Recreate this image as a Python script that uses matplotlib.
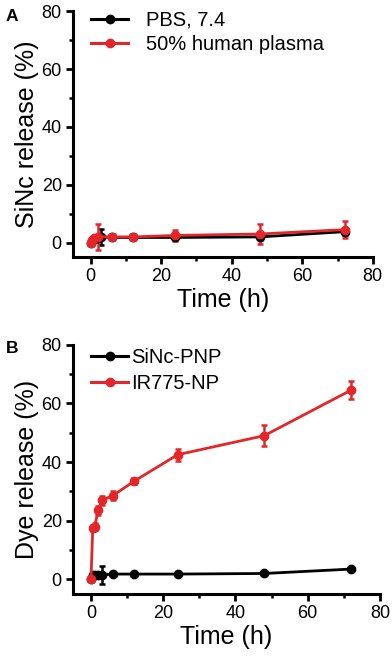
import numpy as np
import matplotlib
matplotlib.use('Agg')
import matplotlib.pyplot as plt
from matplotlib.ticker import MultipleLocator
from matplotlib.lines import Line2D

plt.rcParams['font.family'] = ['Liberation Sans', 'DejaVu Sans']

# Panel A data
a_time_pbs = [0, 1, 2, 3, 6, 12, 24, 48, 72]
a_pbs = [0, 1.2, 1.5, 2.0, 1.8, 1.8, 1.8, 2.0, 3.8]
a_pbs_err = [0.3, 0.5, 0.8, 2.8, 0.6, 0.6, 0.8, 1.0, 1.2]
a_time_plasma = [0, 0.5, 1, 2, 6, 12, 24, 48, 72]
a_plasma = [0, 1.0, 1.5, 2.0, 2.0, 2.0, 2.5, 3.0, 4.5]
a_plasma_err = [0.3, 0.5, 0.6, 4.5, 1.0, 1.0, 2.0, 3.5, 3.0]

# Panel B data
b_time = [0, 0.5, 1, 2, 3, 6, 12, 24, 48, 72]
b_sinc = [0, 1.5, 1.5, 1.5, 1.5, 1.8, 1.8, 1.8, 2.0, 3.5]
b_sinc_err = [0.3, 0.5, 0.5, 0.5, 3.0, 0.6, 0.8, 0.6, 0.6, 0.8]
b_ir775 = [0, 17.5, 18.0, 23.5, 27.0, 28.5, 33.5, 42.5, 49.0, 64.5]
b_ir775_err = [0.3, 1.0, 1.2, 1.5, 1.5, 1.5, 1.0, 2.0, 3.5, 3.0]

RED = '#e3262a'


def style_axes(ax, ylabel):
    ax.set_xlim(-5, 80)
    ax.set_ylim(-5, 80)
    ax.xaxis.set_major_locator(MultipleLocator(20))
    ax.yaxis.set_major_locator(MultipleLocator(20))
    ax.xaxis.set_minor_locator(MultipleLocator(10))
    ax.yaxis.set_minor_locator(MultipleLocator(10))
    for s in ['top', 'right']:
        ax.spines[s].set_visible(False)
    for s in ['left', 'bottom']:
        ax.spines[s].set_linewidth(2.2)
    ax.spines['left'].set_bounds(-5, 80)
    ax.spines['bottom'].set_bounds(-5, 80)
    ax.tick_params(which='major', length=5, width=2, labelsize=13, pad=3)
    ax.tick_params(which='minor', length=3, width=1.8)
    ax.set_xlabel('Time (h)', fontsize=18, labelpad=2)
    ax.set_ylabel(ylabel, fontsize=18, labelpad=2)


def draw(ax, t, y, e, color):
    ax.errorbar(t, y, yerr=e, color=color, marker='o', markersize=6,
                linewidth=2, elinewidth=1.8, capsize=2.5, capthick=1.8)
    return Line2D([], [], color=color, marker='o', markersize=6, linewidth=2.2)


fig = plt.figure(figsize=(3.92, 6.56), dpi=100)

axA = fig.add_axes([0.186, 0.608, 0.765, 0.375])
hA1 = draw(axA, a_time_pbs, a_pbs, a_pbs_err, 'black')
hA2 = draw(axA, a_time_plasma, a_plasma, a_plasma_err, RED)
style_axes(axA, 'SiNc release (%)')
axA.legend([hA1, hA2], ['PBS, 7.4', '50% human plasma'],
           loc='upper left', bbox_to_anchor=(0.0, 1.075), frameon=False,
           fontsize=14.5, handlelength=1.85, handletextpad=0.9,
           labelspacing=0.25)

axB = fig.add_axes([0.186, 0.0945, 0.783, 0.38])
hB1 = draw(axB, b_time, b_sinc, b_sinc_err, 'black')
hB2 = draw(axB, b_time, b_ir775, b_ir775_err, RED)
style_axes(axB, 'Dye release (%)')
axB.legend([hB1, hB2], ['SiNc-PNP', 'IR775-NP'],
           loc='upper left', bbox_to_anchor=(0.0, 1.06), frameon=False,
           fontsize=14.5, handlelength=1.85, handletextpad=0.15,
           labelspacing=0.35)

fig.text(0.015, 0.968, 'A', fontsize=12.5, fontweight='bold')
fig.text(0.015, 0.462, 'B', fontsize=12.5, fontweight='bold')

fig.savefig('out.png', dpi=100)
